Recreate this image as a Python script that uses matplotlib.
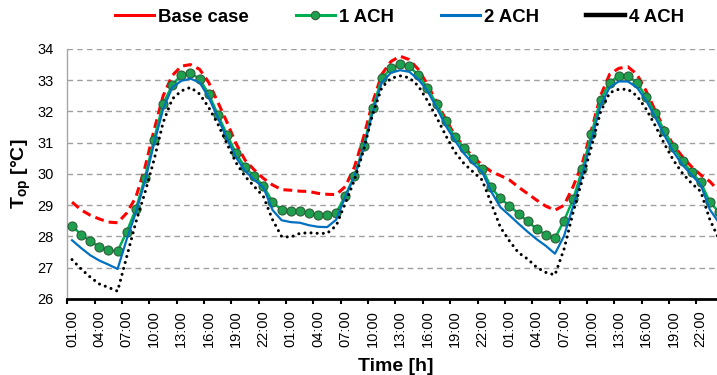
import matplotlib
matplotlib.use("Agg")
import matplotlib.pyplot as plt
from matplotlib.lines import Line2D
import numpy as np

plt.rcParams['font.family'] = ['Liberation Sans', 'DejaVu Sans']
plt.rcParams['mathtext.fontset'] = 'custom'
plt.rcParams['mathtext.rm'] = 'Liberation Sans'
plt.rcParams['mathtext.bf'] = 'Liberation Sans:bold'

# hourly operative temperature, 3 days starting 01:00
base_case = [29.10, 28.85, 28.68, 28.56, 28.46, 28.44, 28.75, 29.25, 30.20, 31.40, 32.50, 33.15,
             33.45, 33.50, 33.35, 32.93, 32.30, 31.66, 30.97, 30.44, 30.13, 29.86, 29.65, 29.50,
             29.48, 29.45, 29.44, 29.38, 29.35, 29.34, 29.60, 30.23, 31.18, 32.30, 33.19, 33.60,
             33.77, 33.66, 33.35, 32.87, 32.30, 31.76, 31.24, 30.87, 30.55, 30.29, 30.08, 29.95,
             29.81, 29.58, 29.37, 29.16, 28.97, 28.84, 29.00, 29.60, 30.34, 31.40, 32.50, 33.19,
             33.38, 33.43, 33.19, 32.66, 32.03, 31.45, 30.92, 30.55, 30.23, 29.97, 29.76, 29.45]
ach1 = [28.34, 28.06, 27.85, 27.67, 27.56, 27.53, 28.15, 28.87, 29.88, 31.10, 32.25, 32.84,
        33.18, 33.23, 33.04, 32.56, 31.90, 31.26, 30.66, 30.21, 29.92, 29.62, 29.10, 28.86,
        28.80, 28.80, 28.76, 28.68, 28.68, 28.76, 29.31, 29.95, 30.88, 32.10, 33.06, 33.38,
        33.51, 33.44, 33.17, 32.75, 32.24, 31.68, 31.19, 30.82, 30.48, 30.17, 29.57, 29.22,
        28.99, 28.73, 28.48, 28.24, 28.05, 27.94, 28.51, 29.19, 30.15, 31.27, 32.38, 32.92,
        33.15, 33.15, 32.92, 32.47, 31.94, 31.39, 30.85, 30.41, 30.05, 29.73, 29.10, 28.78]
ach2 = [27.88, 27.63, 27.40, 27.23, 27.10, 26.96, 27.91, 28.76, 29.76, 30.97, 32.08, 32.77,
        32.98, 33.05, 32.93, 32.45, 31.80, 31.13, 30.53, 30.10, 29.81, 29.57, 28.85, 28.52,
        28.46, 28.44, 28.36, 28.31, 28.30, 28.54, 29.28, 29.92, 30.81, 31.98, 32.93, 33.24,
        33.32, 33.27, 33.03, 32.66, 32.13, 31.55, 31.08, 30.66, 30.34, 30.07, 29.44, 28.94,
        28.68, 28.41, 28.15, 27.91, 27.70, 27.45, 28.02, 28.97, 29.97, 31.08, 32.19, 32.77,
        32.96, 32.96, 32.77, 32.35, 31.82, 31.24, 30.71, 30.29, 29.97, 29.65, 28.86, 28.44]
ach4 = [27.26, 26.96, 26.70, 26.48, 26.37, 26.25, 27.35, 28.45, 29.40, 30.45, 31.65, 32.40,
        32.66, 32.77, 32.56, 32.13, 31.60, 30.97, 30.36, 29.92, 29.60, 29.28, 28.54, 28.00,
        27.98, 28.10, 28.12, 28.10, 28.10, 28.35, 29.07, 29.81, 30.76, 31.92, 32.77, 33.06,
        33.14, 33.08, 32.82, 32.35, 31.82, 31.24, 30.71, 30.34, 30.07, 29.81, 29.07, 28.30,
        27.86, 27.48, 27.28, 27.01, 26.85, 26.77, 27.60, 28.78, 29.81, 30.87, 31.98, 32.60,
        32.71, 32.71, 32.50, 32.08, 31.55, 30.97, 30.44, 30.02, 29.70, 29.44, 28.54, 27.91]
hours = ["%02d:00" % ((1 + h) % 24) for h in range(len(ach1))]
series_names = ["Base case", "1 ACH", "2 ACH", "4 ACH"]

x = np.arange(len(ach1))

fig = plt.figure(figsize=(7.17, 3.75), dpi=100)
ax = fig.add_axes([0.0941, 0.2027, 0.915, 0.6667])

for yv in range(27, 35):
    ax.axhline(yv, color='#A0A0A0', lw=1.0, ls=(0, (4, 3)), zorder=0)

ax.plot(x, base_case, color='#FF0000', lw=2.2, ls=(0, (2.9, 1.7)), zorder=2)
ax.plot(x, ach1, color='#00B050', lw=1.8, marker='o', ms=6.5,
        mfc='#1FA04E', mec='#2E5E3A', mew=0.8, zorder=3)
ax.plot(x, ach2, color='#0070C0', lw=1.6, zorder=4)
ax.plot(x, ach4, color='black', lw=2.2, ls=(0, (0.01, 2.0)),
        dash_capstyle='round', zorder=5)

ax.set_xlim(-0.5, len(ach1) - 0.5)
ax.set_ylim(26, 34)
ax.set_yticks(range(26, 35))
ax.tick_params(axis='y', length=0, pad=10, labelsize=10.5)

ax.set_xticks(x[::3])
ax.set_xticklabels(hours[::3], rotation=90, fontsize=10.5)
ax.set_xticks(np.arange(-0.5, len(ach1), 3), minor=True)
ax.tick_params(axis='x', which='major', length=0, pad=8)
ax.tick_params(axis='x', which='minor', length=3.5, width=1.5, direction='out', color='black')

for s in ['top', 'right']:
    ax.spines[s].set_visible(False)
ax.spines['left'].set_color('#A6A6A6')
ax.spines['left'].set_linewidth(1.0)
ax.spines['bottom'].set_color('black')
ax.spines['bottom'].set_linewidth(2.0)

ax.set_xlabel('Time [h]', fontsize=14, fontweight='bold', labelpad=8)
ax.set_ylabel(r'$\mathbf{T_{op}}$ [°C]', fontsize=14, fontweight='bold')
ax.yaxis.set_label_coords(-0.052, 0.5)

handles = [Line2D([], [], color='#FF0000', lw=2.2),
           Line2D([], [], color='#00B050', lw=2.2, marker='o', ms=6, mfc='#1FA04E', mec='#2E5E3A', mew=0.8),
           Line2D([], [], color='#0070C0', lw=2.2),
           Line2D([], [], color='black', lw=3.2)]
fig.legend(handles, series_names, loc='center', bbox_to_anchor=(0.557, 1 - 17 / 375),
           ncol=4, frameon=False, handlelength=2.1, handletextpad=0.2, columnspacing=2.55,
           prop={'weight': 'bold', 'size': 13.4})

fig.savefig('out.png', dpi=100)
